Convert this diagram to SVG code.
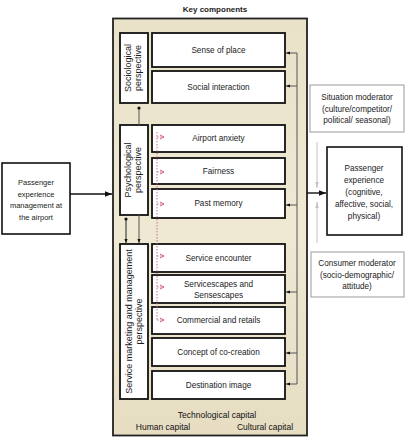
<svg xmlns="http://www.w3.org/2000/svg" width="405" height="438" viewBox="0 0 405 438">
<defs>
<style>
text{font-family:"Liberation Sans",Arial,sans-serif;fill:#1a1a1a;text-anchor:middle}
.comp{fill:#fff;stroke:#111;stroke-width:1.8}
.ct{font-size:8.2px}
.pt{font-size:9px}
.mod{fill:#fff;stroke:#9a9a9a;stroke-width:1}
.fb{fill:none;stroke:#555;stroke-width:1}
.red{fill:none;stroke:#d0607a;stroke-width:0.9;stroke-dasharray:1.5 1.5}
.gray{stroke:#c4c4c4;stroke-width:1;fill:none}
.cap{font-size:8.5px;fill:#111}
</style>
<marker id="ah" viewBox="0 0 10 10" refX="10" refY="5" markerWidth="5" markerHeight="5" orient="auto"><path d="M0,1 L10,5 L0,9 z" fill="#111"/></marker>
<marker id="ahs" viewBox="0 0 10 10" refX="10" refY="5" markerWidth="4" markerHeight="4" orient="auto"><path d="M0,1 L10,5 L0,9 z" fill="#111"/></marker>
<marker id="ahg" viewBox="0 0 10 10" refX="10" refY="5" markerWidth="6" markerHeight="6" orient="auto"><path d="M0,2 L10,5 L0,8 z" fill="#c4c4c4"/></marker>
<marker id="ahr" viewBox="0 0 10 10" refX="9" refY="5" markerWidth="5" markerHeight="6" markerUnits="userSpaceOnUse" orient="auto"><path d="M1,1 L9,5 L1,9" fill="none" stroke="#d0607a" stroke-width="2"/></marker>
<marker id="dot" viewBox="0 0 10 10" refX="5" refY="5" markerWidth="4" markerHeight="4"><circle cx="5" cy="5" r="4" fill="#111"/></marker>
<linearGradient id="bg" x1="0" y1="0" x2="0" y2="1"><stop offset="0" stop-color="#e9e1c8"/><stop offset="0.5" stop-color="#efe9d4"/><stop offset="1" stop-color="#e6ddc2"/></linearGradient>
</defs>
<rect width="405" height="438" fill="#fff"/>

<g id="key-components">
<text x="215" y="12" style="font-size:8px;font-weight:bold">Key components</text>
<rect x="113" y="18.5" width="194" height="417" fill="url(#bg)" stroke="#222" stroke-width="1.8"/>
<text class="cap" x="217" y="418">Technological capital</text>
<text class="cap" x="163" y="430">Human capital</text>
<text class="cap" x="265" y="430">Cultural capital</text>
</g>

<g id="sociological"><rect class="comp" x="120" y="33" width="28" height="70"/>
<text class="pt" transform="translate(131,68) rotate(-90)">Sociological</text>
<text class="pt" transform="translate(141,68) rotate(-90)">perspective</text></g>
<g id="psychological"><rect class="comp" x="120" y="125" width="28" height="90"/>
<text class="pt" transform="translate(131,170) rotate(-90)">Psychological</text>
<text class="pt" transform="translate(141,170) rotate(-90)">perspective</text></g>
<g id="service-marketing"><rect class="comp" x="120" y="244" width="28" height="155"/>
<text class="pt" transform="translate(132,321.5) rotate(-90)">Service marketing and management</text>
<text class="pt" transform="translate(142,321.5) rotate(-90)">perspective</text></g>

<g id="sense-of-place"><rect class="comp" x="152" y="33" width="133" height="34"/><text class="ct" x="218.5" y="53">Sense of place</text></g>
<g id="social-interaction"><rect class="comp" x="152" y="71" width="133" height="32"/><text class="ct" x="218.5" y="90">Social interaction</text></g>
<g id="airport-anxiety"><rect class="comp" x="152" y="125" width="133" height="27"/><text class="ct" x="218.5" y="141">Airport anxiety</text></g>
<g id="fairness"><rect class="comp" x="152" y="158" width="133" height="26"/><text class="ct" x="218.5" y="174">Fairness</text></g>
<g id="past-memory"><rect class="comp" x="152" y="189" width="133" height="29"/><text class="ct" x="218.5" y="206">Past memory</text></g>
<g id="service-encounter"><rect class="comp" x="152" y="244" width="133" height="28"/><text class="ct" x="218.5" y="261">Service encounter</text></g>
<g id="servicescapes"><rect class="comp" x="152" y="275" width="133" height="28"/><text class="ct" x="218.5" y="287">Servicescapes and</text><text class="ct" x="218.5" y="298">Sensescapes</text></g>
<g id="commercial"><rect class="comp" x="152" y="307" width="133" height="27"/><text class="ct" x="218.5" y="323">Commercial and retails</text></g>
<g id="co-creation"><rect class="comp" x="152" y="338" width="133" height="28"/><text class="ct" x="218.5" y="355">Concept of co-creation</text></g>
<g id="destination-image"><rect class="comp" x="152" y="371" width="133" height="28"/><text class="ct" x="218.5" y="388">Destination image</text></g>

<g id="passenger-management"><rect x="2" y="163" width="68" height="71" fill="#fff" stroke="#111" stroke-width="1.6"/>
<text style="font-size:7.5px" x="36" y="185">Passenger</text>
<text style="font-size:7.5px" x="36" y="196.5">experience</text>
<text style="font-size:7.5px" x="36" y="208">management at</text>
<text style="font-size:7.5px" x="36" y="219.5">the airport</text></g>

<g id="passenger-experience"><rect x="327" y="147" width="75" height="88" fill="#fff" stroke="#111" stroke-width="1.6"/>
<text class="ct" x="364" y="171">Passenger</text>
<text class="ct" x="364" y="183">experience</text>
<text class="ct" x="364" y="195">(cognitive,</text>
<text class="ct" x="364" y="206.5">affective, social,</text>
<text class="ct" x="364" y="219">physical)</text></g>

<g id="situation-moderator"><rect class="mod" x="310" y="85" width="94" height="47"/>
<text class="ct" x="357" y="100">Situation moderator</text>
<text class="ct" x="357" y="111.5">(culture/competitor/</text>
<text class="ct" x="357" y="123">political/ seasonal)</text></g>

<g id="consumer-moderator"><rect class="mod" x="311" y="252" width="93" height="45"/>
<text class="ct" x="357" y="266">Consumer moderator</text>
<text class="ct" x="357" y="277.5">(socio-demographic/</text>
<text class="ct" x="357" y="289">attitude)</text></g>

<g id="connectors">
<line x1="70" y1="194" x2="112" y2="194" stroke="#111" stroke-width="1.4" marker-end="url(#ah)"/>
<line x1="307" y1="193" x2="326" y2="193" stroke="#111" stroke-width="1.4" marker-end="url(#ah)"/>
<line class="gray" x1="317" y1="142" x2="317" y2="188" marker-end="url(#ahg)"/>
<line class="gray" x1="317" y1="243" x2="317" y2="202" marker-end="url(#ahg)"/>
<line class="fb" x1="297" y1="53" x2="297" y2="384"/>
<line class="fb" x1="297" y1="53" x2="286" y2="53" marker-end="url(#ahs)"/>
<line class="fb" x1="297" y1="86" x2="286" y2="86" marker-end="url(#ahs)"/>
<line class="fb" x1="297" y1="205" x2="286" y2="205" marker-end="url(#ahs)"/>
<line class="fb" x1="297" y1="292" x2="286" y2="292" marker-end="url(#ahs)"/>
<line class="fb" x1="297" y1="353" x2="286" y2="353" marker-end="url(#ahs)"/>
<line class="fb" x1="297" y1="384" x2="286" y2="384" marker-end="url(#ahs)"/>
<line x1="139" y1="108" x2="139" y2="125" stroke="#555" stroke-width="1" marker-start="url(#dot)"/>
<line x1="139" y1="215" x2="139" y2="243" stroke="#555" stroke-width="1" marker-end="url(#ahs)"/>
<line x1="126" y1="219" x2="126" y2="243" stroke="#222" stroke-width="1" marker-start="url(#dot)" marker-end="url(#ahs)"/>
<line class="red" x1="157" y1="132" x2="157" y2="321"/>
<line class="red" x1="157" y1="137" x2="164" y2="137" marker-end="url(#ahr)"/>
<line class="red" x1="157" y1="172" x2="164" y2="172" marker-end="url(#ahr)"/>
<line class="red" x1="157" y1="204" x2="164" y2="204" marker-end="url(#ahr)"/>
<line class="red" x1="157" y1="256" x2="164" y2="256" marker-end="url(#ahr)"/>
<line class="red" x1="157" y1="287" x2="164" y2="287" marker-end="url(#ahr)"/>
<line class="red" x1="157" y1="320" x2="164" y2="320" marker-end="url(#ahr)"/>
</g>
</svg>
